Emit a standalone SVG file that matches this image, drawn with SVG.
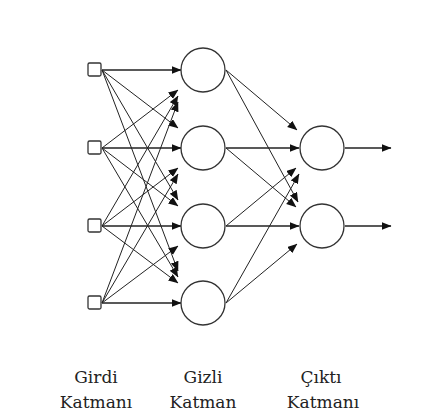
<svg xmlns="http://www.w3.org/2000/svg" width="437" height="418" viewBox="0 0 437 418">
<defs>
<style>
.n{fill:#fff;stroke:#333;stroke-width:1.3}
.c line{stroke:#222;stroke-width:1;marker-end:url(#ah)}
.c line.h{stroke-width:1.6}
</style>
<marker id="ah" markerUnits="userSpaceOnUse" markerWidth="10" markerHeight="9" refX="9.5" refY="4" orient="auto"><path d="M0,0 L10,4 L0,8 z" fill="#111"/></marker>
</defs>
<rect width="437" height="418" fill="#fff"/>
<g class="c" id="connectors">
<line class="h" x1="102" y1="70" x2="181" y2="70"/>
<line x1="102" y1="70" x2="178" y2="128"/>
<line x1="102" y1="70" x2="178" y2="200"/>
<line x1="102" y1="70" x2="178" y2="271"/>
<line x1="102" y1="148" x2="178" y2="90"/>
<line class="h" x1="102" y1="148" x2="181" y2="148"/>
<line x1="102" y1="148" x2="178" y2="206"/>
<line x1="102" y1="148" x2="178" y2="277"/>
<line x1="102" y1="226" x2="178" y2="96"/>
<line x1="102" y1="226" x2="178" y2="168"/>
<line class="h" x1="102" y1="226" x2="181" y2="226"/>
<line x1="102" y1="226" x2="178" y2="283"/>
<line x1="102" y1="303" x2="178" y2="102"/>
<line x1="102" y1="303" x2="178" y2="174"/>
<line x1="102" y1="303" x2="178" y2="246"/>
<line class="h" x1="102" y1="303" x2="181" y2="303"/>
<line x1="226" y1="70" x2="297" y2="130"/>
<line x1="226" y1="70" x2="298" y2="202"/>
<line class="h" x1="226" y1="148" x2="299" y2="148"/>
<line x1="226" y1="148" x2="296" y2="207"/>
<line x1="226" y1="226" x2="296" y2="168"/>
<line class="h" x1="226" y1="226" x2="299" y2="226"/>
<line x1="226" y1="303" x2="299" y2="174"/>
<line x1="226" y1="303" x2="297" y2="244"/>
<line class="h" x1="345" y1="148" x2="391" y2="148"/>
<line class="h" x1="345" y1="226" x2="391" y2="226"/>
</g>
<g id="in1"><rect class="n" x="88" y="63" width="13" height="13" rx="1.5"/></g>
<g id="in2"><rect class="n" x="88" y="141" width="13" height="13" rx="1.5"/></g>
<g id="in3"><rect class="n" x="88" y="219" width="13" height="13" rx="1.5"/></g>
<g id="in4"><rect class="n" x="88" y="296" width="13" height="13" rx="1.5"/></g>
<g id="h1"><circle class="n" cx="203" cy="70" r="22"/></g>
<g id="h2"><circle class="n" cx="203" cy="148" r="22"/></g>
<g id="h3"><circle class="n" cx="203" cy="226" r="22"/></g>
<g id="h4"><circle class="n" cx="203" cy="303" r="22"/></g>
<g id="o1"><circle class="n" cx="322" cy="148" r="22"/></g>
<g id="o2"><circle class="n" cx="322" cy="226" r="22"/></g>
<g id="labels" font-family="'DejaVu Serif', 'Liberation Serif', serif" font-size="17" fill="#222" text-anchor="middle">
<text x="96" y="383">Girdi</text>
<text x="96" y="408">Katmanı</text>
<text x="203" y="383">Gizli</text>
<text x="203" y="408">Katman</text>
<text x="321" y="383">Çıktı</text>
<text x="323" y="408">Katmanı</text>
</g>
</svg>
